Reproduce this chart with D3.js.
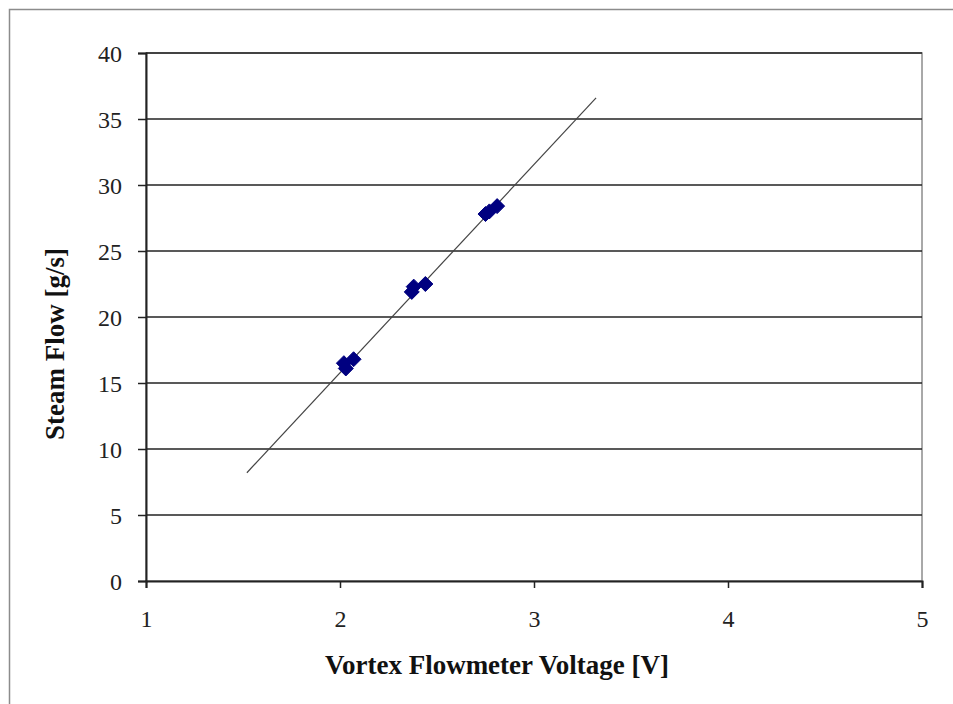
<!DOCTYPE html>
<html>
<head>
<meta charset="utf-8">
<script src="https://cdn.jsdelivr.net/npm/d3@7"></script>
<style>
  html, body { margin: 0; padding: 0; background: #fff; }
  svg { display: block; }
</style>
</head>
<body>
<svg id="chart" width="953" height="704"></svg>
<script>
// Measured steam flow vs vortex flowmeter voltage
const voltage = [2.02, 2.07, 2.03, 2.38, 2.44, 2.37, 2.75, 2.81, 2.77];
const steamFlow = [16.5, 16.8, 16.1, 22.3, 22.5, 21.9, 27.8, 28.4, 28.0];

// Linear trendline endpoints
const trendX = [1.52, 3.32];
const trendY = [8.2, 36.6];

const xTicks = [1, 2, 3, 4, 5];
const yTicks = [0, 5, 10, 15, 20, 25, 30, 35, 40];

const svg = d3.select("#chart");
const W = 953, H = 704;
const margin = { left: 146, top: 53, right: W - 922, bottom: H - 581 };
const serif = "'Liberation Serif', 'Times New Roman', serif";

// Outer chart frame
svg.append("rect")
  .attr("x", 9.5).attr("y", 9.5)
  .attr("width", W + 20).attr("height", H + 20)
  .attr("fill", "#fff").attr("stroke", "#8c8c8c").attr("stroke-width", 1.5);

const x = d3.scaleLinear().domain([1, 5]).range([margin.left, W - margin.right]);
const y = d3.scaleLinear().domain([0, 40]).range([H - margin.bottom, margin.top]);

// Plot area border
svg.append("rect")
  .attr("x", x(1)).attr("y", y(40))
  .attr("width", x(5) - x(1)).attr("height", y(0) - y(40))
  .attr("fill", "none").attr("stroke", "#8c8c8c").attr("stroke-width", 1.5);

// Horizontal gridlines
svg.append("g").selectAll("line")
  .data(yTicks.filter(d => d > 0))
  .join("line")
  .attr("x1", x(1)).attr("x2", x(5))
  .attr("y1", d => y(d)).attr("y2", d => y(d))
  .attr("stroke", "#222").attr("stroke-width", 1.5);

// Axes
const xAxis = svg.append("g")
  .attr("transform", `translate(0,${y(0)})`)
  .call(d3.axisBottom(x).tickValues(xTicks).tickSize(7).tickPadding(22).tickFormat(d3.format("d")));
const yAxis = svg.append("g")
  .attr("transform", `translate(${x(1)},0)`)
  .call(d3.axisLeft(y).tickValues(yTicks).tickSize(8).tickPadding(16).tickFormat(d3.format("d")));

[xAxis, yAxis].forEach(g => {
  g.select(".domain").attr("stroke", "#222").attr("stroke-width", 2);
  g.selectAll(".tick line").attr("stroke", "#222").attr("stroke-width", 1.5);
  g.selectAll(".tick text")
    .attr("fill", "#222")
    .style("font-family", serif)
    .style("font-size", "24px");
});
yAxis.selectAll(".tick text").attr("dy", "0.34em");

// Trendline
svg.append("line")
  .attr("x1", x(trendX[0])).attr("y1", y(trendY[0]))
  .attr("x2", x(trendX[1])).attr("y2", y(trendY[1]))
  .attr("stroke", "#444").attr("stroke-width", 1.2);

// Data markers (square diamonds)
const r = 7.5;
const diamondPath = `M0,${-r}L${r},0L0,${r}L${-r},0Z`;
svg.append("g").selectAll("path")
  .data(voltage.map((v, i) => [v, steamFlow[i]]))
  .join("path")
  .attr("d", diamondPath)
  .attr("transform", d => `translate(${x(d[0])},${y(d[1])})`)
  .attr("fill", "#000080")
  .attr("stroke", "#000080").attr("stroke-width", 1);

// Axis titles
svg.append("text")
  .attr("x", 497).attr("y", 674)
  .attr("text-anchor", "middle")
  .style("font-family", serif)
  .style("font-weight", "bold").style("font-size", "27px")
  .attr("fill", "#111")
  .text("Vortex Flowmeter Voltage [V]");

svg.append("text")
  .attr("transform", "translate(64,344) rotate(-90)")
  .attr("text-anchor", "middle")
  .style("font-family", serif)
  .style("font-weight", "bold").style("font-size", "27px")
  .attr("fill", "#111")
  .text("Steam Flow [g/s]");
</script>
</body>
</html>
